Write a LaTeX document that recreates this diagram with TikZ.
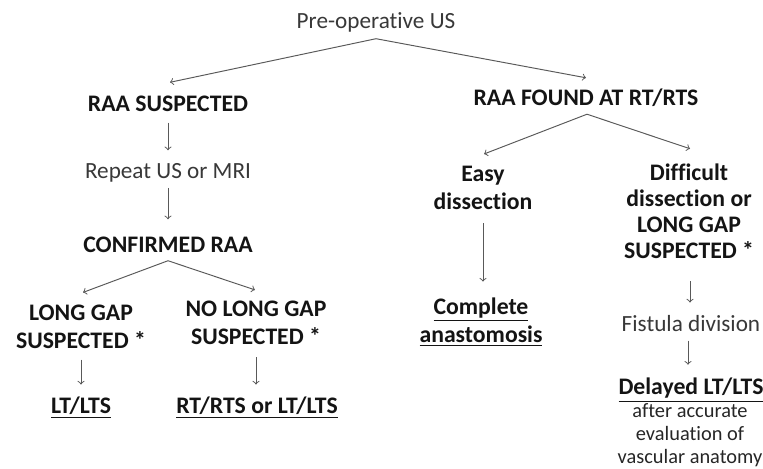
\documentclass[tikz,border=0pt]{standalone}
\usepackage{fontspec}
\setmainfont{Carlito}[Ligatures={NoCommon}]
\usetikzlibrary{calc,arrows}

\tikzset{
    plain/.style={text=black!78, font=\fontsize{13.2}{15}\selectfont, align=center, inner sep=0pt},
    head/.style={text=black!92, font=\fontsize{13.5}{15.8}\selectfont\bfseries, align=center, inner sep=0pt},
    note/.style={text=black!85, font=\fontsize{11.6}{13}\selectfont, align=center, inner sep=0pt},
    arr/.style={->, >=to, draw=black!65, line width=0.55pt},
}

\begin{document}
\begin{tikzpicture}[x=0.02cm,y=-0.02cm]
    \useasboundingbox (0,0) rectangle (763,468);

    % top
    \node[plain] (preop) at (376,22.5) {Pre-operative US};
    \node[head] (raasus) at (168,103.5) {RAA SUSPECTED};
    \node[head] (raafound) at (586,98) {RAA FOUND AT RT/RTS};

    % left branch
    \node[plain] (repeat) at (168,173) {Repeat US or MRI};
    \node[head] (confirmed) at (168,244.5) {CONFIRMED RAA};
    \node[head] (longgap) at (81,326.5) {LONG GAP\\SUSPECTED *};
    \node[head] (nolonggap) at (256,323) {NO LONG GAP\\SUSPECTED *};
    \node[head] (ltlts) at (81,407.5) {\underline{LT/LTS}};
    \node[head] (rtrts) at (257,407.5) {\underline{RT/RTS or LT/LTS}};

    % right branch
    \node[head] (easy) at (483,188) {Easy\\dissection};
    \node[head] (complete) at (481,322) {\underline{Complete}\\\underline{anastomosis}};
    \node[head, font=\fontsize{13.5}{14.8}\selectfont\bfseries] (difficult) at (689,211.5)
        {Difficult\\dissection or\\LONG GAP\\SUSPECTED *};
    \node[plain] (fistula) at (691,324) {Fistula division};
    \node[head] (delayed) at (691,390) {\underline{Delayed LT/LTS}};
    \node[note] (evaluation) at (690,435) {after accurate\\evaluation of\\vascular anatomy};

    % forks
    \coordinate (fork1) at ($(preop.south)+(0,6)$);
    \coordinate (fork2) at ($(raafound.south)+(1,7)$);
    \coordinate (fork3) at ($(confirmed.south)+(0,8)$);

    \draw[arr] (fork1) -- ($(raasus.north)+(2,-13)$);
    \draw[arr] (fork1) -- ($(raafound.north)+(0,-11)$);
    \draw[arr] (fork2) -- ($(easy.north)+(1,-12)$);
    \draw[arr] (fork2) -- ($(difficult.north)+(1,-15)$);
    \draw[arr] (fork3) -- ($(longgap.north)+(2,-12)$);
    \draw[arr] (fork3) -- ($(nolonggap.north)+(-1,-11)$);

    % straight down
    \draw[arr] ($(raasus.south)+(0,11)$) -- ($(repeat.north)+(0,-13)$);
    \draw[arr] ($(repeat.south)+(0,5)$) -- ($(confirmed.north)+(0,-17)$);
    \draw[arr] ($(longgap.south)+(0,11)$) -- ($(ltlts.north)+(0,-12)$);
    \draw[arr] ($(nolonggap.south)+(0,12)$) -- ($(rtrts.north)+(-1,-12)$);
    \draw[arr] ($(easy.south)+(0,13)$) -- ($(easy.south |- complete.north)+(0,-16)$);
    \draw[arr] ($(difficult.south)+(1,22)$) -- ($(difficult.south |- fistula.north)+(1,-13)$);
    \draw[arr] ($(fistula.south)+(-3,8)$) -- ($(fistula.south |- delayed.north)+(-3,-13)$);
\end{tikzpicture}
\end{document}
